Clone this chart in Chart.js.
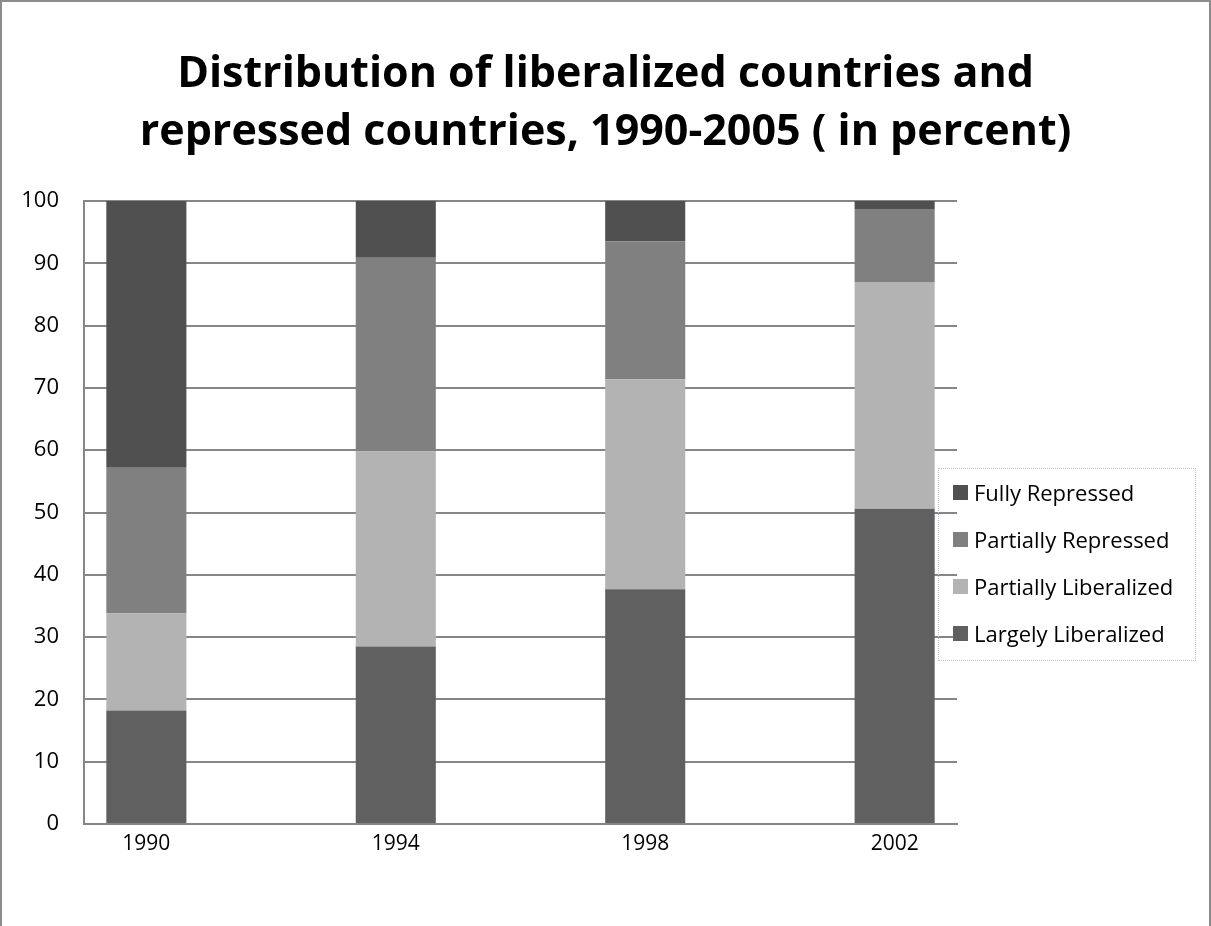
<!DOCTYPE html>
<html lang="en">
<head>
    <meta charset="UTF-8">
    <title>Distribution of liberalized countries and repressed countries</title>
    <script src="https://cdn.jsdelivr.net/npm/chart.js"></script>
    <style>
        body {
            margin: 0;
            background: #fff;
            font-family: "Open Sans", sans-serif;
        }
        .frame {
            position: relative;
            width: 1207px;
            height: 924px;
            border: 2px solid #8c8c8c;
            border-bottom: none;
        }
        .title {
            position: absolute;
            left: 0;
            top: 40px;
            width: 1207px;
            text-align: center;
            font-size: 43px;
            font-weight: bold;
            line-height: 58px;
            color: #000;
        }
        .legend {
            position: absolute;
            left: 936px;
            top: 466px;
            width: 258px;
            height: 193px;
            border: 1px dotted #b4c6e4;
            box-sizing: border-box;
            padding-top: 0;
        }
        .legend-item {
            display: flex;
            align-items: center;
            height: 48px;
            margin-top: -1px;
            font-size: 22px;
            color: #000;
            white-space: nowrap;
        }
        .legend-item span.box {
            width: 15px;
            height: 15px;
            margin-left: 14px;
            margin-right: 6px;
        }
    </style>
</head>
<body>
<div class="frame">
    <canvas id="chart" width="1207" height="924"></canvas>
    <div class="title">Distribution of liberalized countries and<br>repressed countries, 1990-2005 ( in percent)</div>
    <div class="legend" id="legend"></div>
</div>
<script>
    // data (percent of countries)
    const years = ['1990', '', '1994', '', '1998', '', '2002'];
    const largelyLiberalized = [18.2, null, 28.5, null, 37.7, null, 50.6];
    const partiallyLiberalized = [15.6, null, 31.3, null, 33.7, null, 36.4];
    const partiallyRepressed = [23.4, null, 31.1, null, 22.1, null, 11.7];
    const fullyRepressed = [42.8, null, 9.1, null, 6.5, null, 1.3];
    const yTicks = [0, 10, 20, 30, 40, 50, 60, 70, 80, 90, 100];

    const seriesNames = ['Largely Liberalized', 'Partially Liberalized', 'Partially Repressed', 'Fully Repressed'];
    const seriesColors = ['#606060', '#b3b3b3', '#808080', '#505050'];
    const seriesData = [largelyLiberalized, partiallyLiberalized, partiallyRepressed, fullyRepressed];

    const datasets = seriesNames.map((name, i) => ({
        label: name,
        data: seriesData[i],
        backgroundColor: seriesColors[i],
        borderWidth: 0,
        categoryPercentage: 1,
        barPercentage: 0.642
    }));

    new Chart(document.getElementById('chart'), {
        type: 'bar',
        data: { labels: years, datasets: datasets },
        options: {
            responsive: false,
            animation: false,
            layout: { padding: { left: 0, right: 252, bottom: 60, top: 199 } },
            plugins: {
                legend: { display: false },
                tooltip: { enabled: false },
                title: { display: false }
            },
            scales: {
                x: {
                    stacked: true,
                    grid: { display: false, drawTicks: false },
                    border: { color: '#868686', width: 2 },
                    ticks: {
                        autoSkip: false,
                        maxRotation: 0,
                        padding: 7,
                        color: '#000',
                        font: { family: 'Open Sans', size: 21 }
                    },
                    afterFit: s => { s.height = 42; }
                },
                y: {
                    stacked: true,
                    min: 0,
                    max: 100,
                    afterBuildTicks: s => { s.ticks = yTicks.map(v => ({ value: v })); },
                    grid: { color: '#868686', lineWidth: 2, drawTicks: false },
                    border: { color: '#868686', width: 2 },
                    ticks: {
                        padding: 25,
                        color: '#000',
                        font: { family: 'Open Sans', size: 22 }
                    },
                    afterFit: s => { s.width = 82; }
                }
            }
        }
    });

    // legend in reverse stacking order, like the original
    const legend = document.getElementById('legend');
    for (let i = seriesNames.length - 1; i >= 0; i--) {
        const item = document.createElement('div');
        item.className = 'legend-item';
        item.innerHTML = '<span class="box" style="background:' + seriesColors[i] + '"></span>' + seriesNames[i];
        legend.appendChild(item);
    }
</script>
</body>
</html>
